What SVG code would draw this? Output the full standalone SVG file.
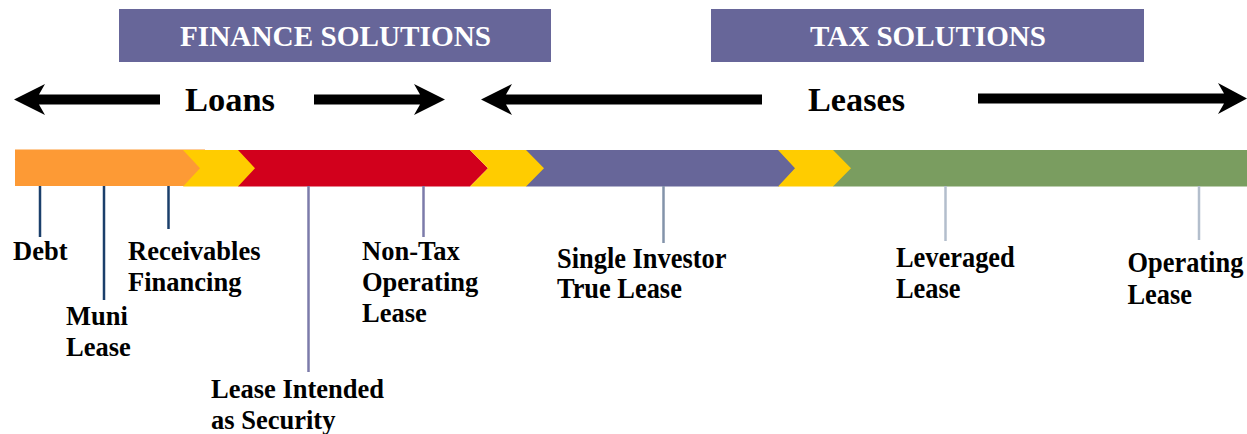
<svg xmlns="http://www.w3.org/2000/svg" width="1247" height="434" viewBox="0 0 1247 434">
  <style>
    .banner { fill: #676699; }
    .bannerText { font-family: "Liberation Serif", "Times New Roman", serif; font-weight: bold; font-size: 28.5px; fill: #ffffff; text-anchor: middle; }
    .big { font-family: "Liberation Serif", "Times New Roman", serif; font-weight: bold; font-size: 34.5px; fill: #000000; }
    .lbl { font-family: "Liberation Serif", "Times New Roman", serif; font-weight: bold; font-size: 26.5px; fill: #000000; }
    .lblR { font-family: "Liberation Serif", "Times New Roman", serif; font-weight: bold; font-size: 30px; fill: #000000; }
    .arrow { fill: #000000; }
    .yellow { fill: #FFCC00; }
    .navy { stroke: #1B3F6B; stroke-width: 2.5; fill: none; }
    .violet { stroke: #7C7BAA; stroke-width: 2.5; fill: none; }
    .slate { stroke: #8393AA; stroke-width: 2.5; fill: none; }
    .light { stroke: #B3BECC; stroke-width: 2.5; fill: none; }
  </style>

  <g id="finance-banner">
    <rect class="banner" x="119" y="9" width="432" height="53"/>
    <text class="bannerText" x="335.5" y="46" textLength="311" lengthAdjust="spacingAndGlyphs">FINANCE SOLUTIONS</text>
  </g>
  <g id="tax-banner">
    <rect class="banner" x="711" y="9" width="433" height="53"/>
    <text class="bannerText" x="928" y="46" textLength="236" lengthAdjust="spacingAndGlyphs">TAX SOLUTIONS</text>
  </g>

  <g id="loans">
    <path class="arrow" d="M14,99.5 L45,84 L39,94.5 L160,94.5 L160,104.5 L39,104.5 L45,115 Z"/>
    <text class="big" x="185" y="110.5" textLength="90" lengthAdjust="spacingAndGlyphs">Loans</text>
    <path class="arrow" d="M445,99.5 L414,84 L420,94.5 L314,94.5 L314,104.5 L420,104.5 L414,115 Z"/>
  </g>
  <g id="leases">
    <path class="arrow" d="M481,99.5 L512,84 L506,94.5 L762,94.5 L762,104.5 L506,104.5 L512,115 Z"/>
    <text class="big" x="808" y="110.5" textLength="97" lengthAdjust="spacingAndGlyphs">Leases</text>
    <path class="arrow" d="M1247,98.5 L1218,83 L1224,93.5 L978,93.5 L978,103.5 L1224,103.5 L1218,114 Z"/>
  </g>

  <g id="bar">
    <rect x="15" y="149.5" width="190" height="36.5" fill="#FD9A35"/>
    <path d="M238,150 L470,150 L488,168.2 L470,186.5 L238,186.5 Z" fill="#D2001C"/>
    <path d="M526,150 L779,150 L796,168.2 L779,186.5 L526,186.5 Z" fill="#676699"/>
    <rect x="833" y="150" width="414" height="36.5" fill="#7A9D60"/>
    <path class="yellow" d="M183,150 L238,150 L255,168.2 L238,186.5 L183,186.5 L200,168.2 Z"/>
    <path class="yellow" d="M470,150 L526,150 L544,168.2 L526,186.5 L470,186.5 L488,168.2 Z"/>
    <path class="yellow" d="M778,150 L833,150 L851,168.2 L833,186.5 L778,186.5 L795,168.2 Z"/>
  </g>

  <g id="connectors">
    <line class="navy" x1="40" y1="186" x2="40" y2="237"/>
    <line class="navy" x1="104" y1="186" x2="104" y2="300"/>
    <line class="navy" x1="168.5" y1="186" x2="168.5" y2="229"/>
    <line class="violet" x1="308.5" y1="186" x2="308.5" y2="372"/>
    <line class="violet" x1="423.5" y1="186" x2="423.5" y2="237"/>
    <line class="slate" x1="663.5" y1="186" x2="663.5" y2="243"/>
    <line class="light" x1="945.5" y1="186" x2="945.5" y2="241"/>
    <line class="light" x1="1199" y1="186" x2="1199" y2="240"/>
  </g>

  <g id="label-debt">
    <text class="lbl" x="13" y="259.5">Debt</text>
  </g>
  <g id="label-muni">
    <text class="lbl" x="66" y="324.5">Muni<tspan x="66" y="356">Lease</tspan></text>
  </g>
  <g id="label-receivables">
    <text class="lbl" x="128" y="259.5">Receivables<tspan x="128" y="290.7">Financing</tspan></text>
  </g>
  <g id="label-lease-intended">
    <text class="lbl" x="211" y="397.7">Lease Intended<tspan x="211" y="428.7">as Security</tspan></text>
  </g>
  <g id="label-non-tax">
    <text class="lbl" x="362" y="259.5">Non-Tax<tspan x="362" y="290.7">Operating</tspan><tspan x="362" y="322.3">Lease</tspan></text>
  </g>
  <g id="label-single-investor">
    <text class="lblR" transform="translate(557 267.7) scale(0.88 1)">Single Investor<tspan x="0" y="30.6">True Lease</tspan></text>
  </g>
  <g id="label-leveraged">
    <text class="lblR" transform="translate(896 266.7) scale(0.88 1)">Leveraged<tspan x="0" y="31.6">Lease</tspan></text>
  </g>
  <g id="label-operating">
    <text class="lblR" transform="translate(1127.5 272.3) scale(0.88 1)">Operating<tspan x="0" y="32">Lease</tspan></text>
  </g>
</svg>
